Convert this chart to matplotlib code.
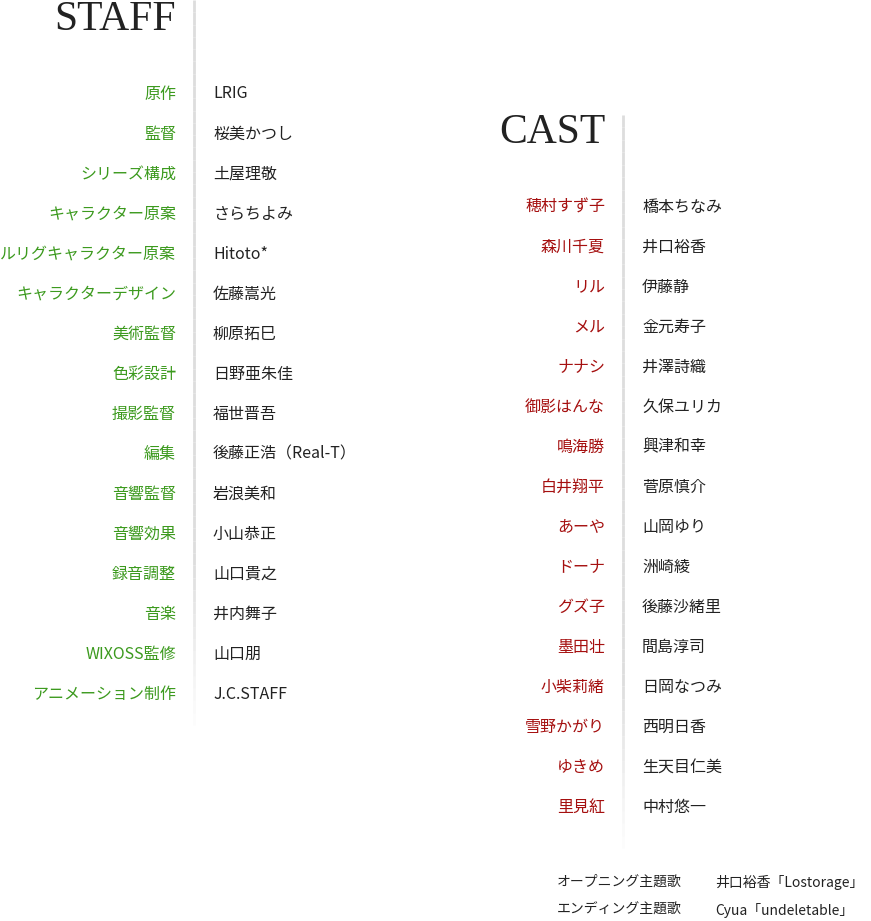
import matplotlib
matplotlib.use('Agg')
import matplotlib.pyplot as plt
import numpy as np

plt.rcParams['font.family'] = ['Noto Sans CJK JP', 'DejaVu Sans']

W, H = 871, 921

staff_roles = ['原作', '監督', 'シリーズ構成', 'キャラクター原案', 'ルリグキャラクター原案',
               'キャラクターデザイン', '美術監督', '色彩設計', '撮影監督', '編集', '音響監督',
               '音響効果', '録音調整', '音楽', 'WIXOSS監修', 'アニメーション制作']
staff_names = ['LRIG', '桜美かつし', '土屋理敬', 'さらちよみ', 'Hitoto*', '佐藤嵩光',
               '柳原拓巳', '日野亜朱佳', '福世晋吾', '後藤正浩（Real-T）', '岩浪美和',
               '小山恭正', '山口貴之', '井内舞子', '山口朋', 'J.C.STAFF']

cast_roles = ['穂村すず子', '森川千夏', 'リル', 'メル', 'ナナシ', '御影はんな', '鳴海勝',
              '白井翔平', 'あーや', 'ドーナ', 'グズ子', '墨田壮', '小柴莉緒', '雪野かがり',
              'ゆきめ', '里見紅']
cast_names = ['橋本ちなみ', '井口裕香', '伊藤静', '金元寿子', '井澤詩織', '久保ユリカ',
              '興津和幸', '菅原慎介', '山岡ゆり', '洲崎綾', '後藤沙緒里', '間島淳司',
              '日岡なつみ', '西明日香', '生天目仁美', '中村悠一']

songs = ['オープニング主題歌', 'エンディング主題歌']
song_credits = ['井口裕香「Lostorage」', 'Cyua「undeletable」']

fig = plt.figure(figsize=(W / 100, H / 100), dpi=100)
ax = fig.add_axes([0, 0, 1, 1])
ax.set_xlim(0, W)
ax.set_ylim(H, 0)
ax.axis('off')

green = '#3c9a1e'
red = '#a50f0f'
dark = '#222222'


def fade_line(x, y0, y1):
    ys = np.linspace(y0, y1, 60)
    for i in range(len(ys) - 1):
        a = 1.0 if i < 45 else (59 - i) / 14
        ax.plot([x, x], [ys[i], ys[i + 1]], color='#dddddd', lw=2, alpha=a,
                solid_capstyle='butt')


fade_line(194, 0, 725)
fade_line(623, 115, 848)

ax.text(176, 20, 'STAFF', ha='right', va='center', fontsize=30,
        family=['Liberation Serif'], color=dark)
ax.text(605, 133, 'CAST', ha='right', va='center', fontsize=30,
        family=['Liberation Serif'], color=dark)

for i, (r, n) in enumerate(zip(staff_roles, staff_names)):
    y = 94 + 40 * i
    ax.text(176, y, r, ha='right', va='center', fontsize=11.5, color=green)
    ax.text(213, y, n, ha='left', va='center', fontsize=11.5, color=dark)

for i, (r, n) in enumerate(zip(cast_roles, cast_names)):
    y = 207 + 40 * i
    ax.text(605, y, r, ha='right', va='center', fontsize=11.5, color=red)
    ax.text(642, y, n, ha='left', va='center', fontsize=11.5, color=dark)

for i, (s, c) in enumerate(zip(songs, song_credits)):
    y = 882 + 28 * i
    ax.text(557, y, s, ha='left', va='center', fontsize=10, color=dark)
    ax.text(715, y, c, ha='left', va='center', fontsize=10, color=dark)

fig.savefig('out.png', dpi=100, facecolor='white')
